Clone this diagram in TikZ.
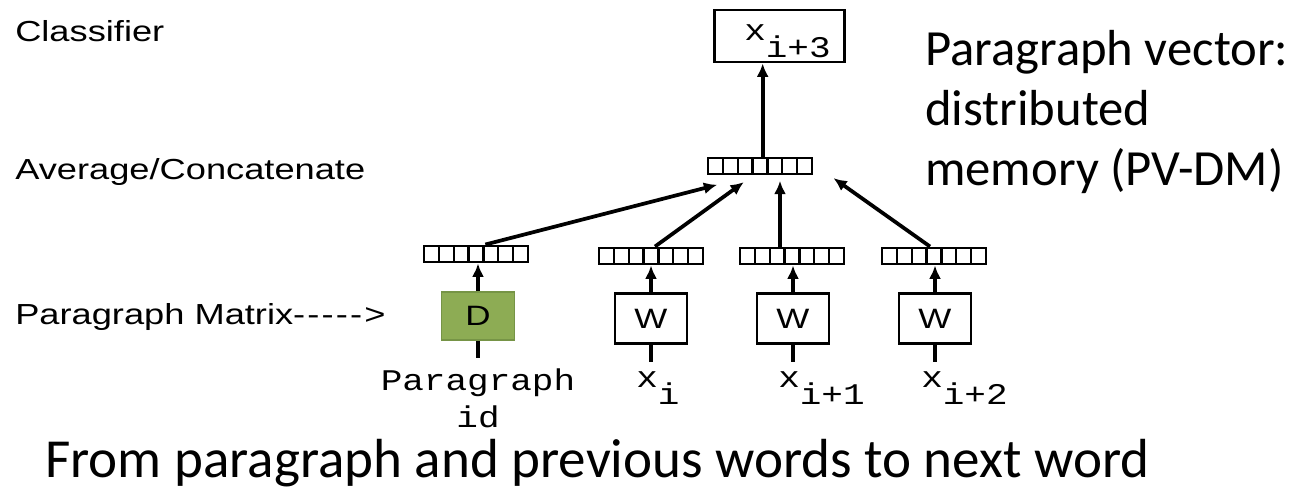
\documentclass[tikz,border=0pt]{standalone}
\usepackage{fontspec}
\usetikzlibrary{arrows.meta,calc}
\newfontfamily\labfont[FakeStretch=1.25]{Liberation Sans}
\newfontfamily\codefont[FakeStretch=1.2]{Liberation Mono}
\newfontfamily\notefont{Carlito}
\definecolor{dgreen}{RGB}{141,172,84}
\definecolor{dgreenline}{RGB}{118,148,70}
\newcommand{\hy}{\mbox{-}\kern1.6pt}
\newcommand{\sub}[1]{\raisebox{-0.55em}{#1}}
\tikzset{
  lab/.style={font=\labfont\fontsize{21.75}{26}\selectfont, inner sep=0pt, anchor=base west},
  code/.style={font=\codefont\fontsize{22.5}{27}\selectfont, inner sep=0pt},
  note/.style={font=\notefont\fontsize{38}{45}\selectfont, inner sep=0pt, anchor=base west},
  vec/.style={draw, line width=2.2pt, minimum width=78pt, minimum height=12pt, inner sep=0pt,
    path picture={\foreach \k in {1,...,6}{
      \draw[line width=1.8pt]
        ($(path picture bounding box.south west)!\k/7!(path picture bounding box.south east)$) --
        ($(path picture bounding box.north west)!\k/7!(path picture bounding box.north east)$);}}},
  wbox/.style={draw, line width=2.2pt, minimum width=54pt, minimum height=37pt, inner sep=0pt,
    font=\labfont\fontsize{21}{25}\selectfont},
  dbox/.style={wbox, fill=dgreen, draw=dgreenline, line width=1.2pt, minimum width=55pt, minimum height=36pt},
  conn/.style={line width=2.8pt, -{Latex[length=10pt,width=9pt]}},
  stem/.style={line width=2.8pt}
}
\begin{document}
\begin{tikzpicture}[x=0.75pt,y=-0.75pt]
\path[use as bounding box] (0,0) rectangle (1306,498);

% row labels on the left
\node[lab] (lcls) at (15,42) {Classifier};
\node[lab] (lavg) at (15,180) {Average/Concatenate};
\node[lab] (lmat) at (15,325) {Paragraph Matrix\hy\hy\hy\hy\hy>};

% classifier output
\node[draw, line width=2.2pt, minimum width=97pt, minimum height=39pt, inner sep=0pt] (cls) at (779.5,36) {};
\node[code, anchor=base west] (clstxt) at (744,41) {x\sub{i+3}};

% averaged / concatenated vector
\node[vec] (avg) at (760,166) {};

% input vectors
\node[vec] (pv) at (476,254) {};
\node[vec] (v1) at (651,256) {};
\node[vec] (v2) at (792,256) {};
\node[vec] (v3) at (934,256) {};

% lookup matrices
\node[dbox] (D) at (478,316) {D};
\node[wbox] (W1) at (651,318.5) {W};
\node[wbox] (W2) at (793,318.5) {W};
\node[wbox] (W3) at (935,318.5) {W};

% input stems
\coordinate (inD) at (478,358);
\coordinate (in1) at (651,362);
\coordinate (in2) at (793,362);
\coordinate (in3) at (935,362);
\draw[stem] (D.south) -- (inD);
\draw[stem] (W1.south) -- (in1);
\draw[stem] (W2.south) -- (in2);
\draw[stem] (W3.south) -- (in3);

% input labels
\node[code, anchor=north, align=center, font=\codefont\fontsize{22.5}{28}\selectfont] (pid) at (478,368) {Paragraph\\id};
\node[code, anchor=base west] (x1) at (636,388) {x\sub{i}};
\node[code, anchor=base west] (x2) at (778,388) {x\sub{i+1}};
\node[code, anchor=base west] (x3) at (921,388) {x\sub{i+2}};

% matrix to vector arrows
\draw[conn] (D.north) -- (D.north |- pv.south);
\draw[conn] (W1.north) -- (W1.north |- v1.south);
\draw[conn] (W2.north) -- (W2.north |- v2.south);
\draw[conn] (W3.north) -- (W3.north |- v3.south);

% vectors to the combined vector
\draw[conn] ([xshift=7pt]pv.north) -- ([xshift=8pt,yshift=-7pt]avg.south west);
\draw[conn] ([xshift=3pt]v1.north) -- ([xshift=28pt,yshift=-5pt]avg.south west);
\draw[conn] ([xshift=-9pt]v2.north) -- ([xshift=-9pt,yshift=-4pt]v2.north |- avg.south);
\draw[conn] ([xshift=-3pt]v3.north) -- ([xshift=15pt,yshift=-2pt]avg.south east);

% combined vector to classifier
\draw[conn] ([xshift=2pt]avg.north) -- ([xshift=2pt]avg.north |- cls.south);

% descriptions
\node[note] (t1) at (925,66) {Paragraph vector:};
\node[note] (t2) at (925,126) {distributed};
\node[note] (t3) at (925,186) {memory (PV-DM)};
\node[note, font=\notefont\fontsize{41.3}{48}\selectfont] (cap) at (45,478) {From paragraph and previous words to next word};
\end{tikzpicture}
\end{document}
